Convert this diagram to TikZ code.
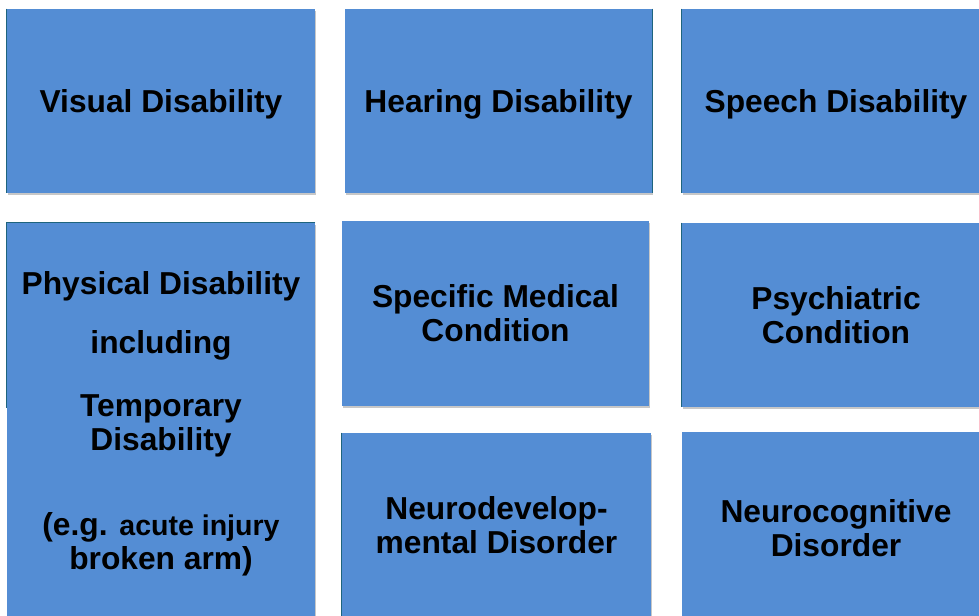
\documentclass[tikz,border=0pt]{standalone}
\usepackage{fontspec}
\setmainfont{Liberation Sans}
\usetikzlibrary{shadows}

\definecolor{boxblue}{RGB}{84,141,212}
\definecolor{edgeteal}{RGB}{30,100,125}

\begin{document}
\begin{tikzpicture}[x=0.75pt, y=-0.75pt,
        box/.style={fill=boxblue, inner sep=0pt, align=center,
            minimum width=231pt, minimum height=138pt,
            font=\bfseries\fontsize{23.8}{25.5}\selectfont,
            drop shadow={shadow xshift=0.6pt, shadow yshift=-1.5pt, opacity=0.22, fill=black}},
        oneline/.style={text depth=0pt},
        edge/.style={draw=edgeteal, line width=0.8pt}]
            \clip (0, 0) rectangle (979, 616);
            \fill[white] (0, 0) rectangle (979, 616);

            \node[box, oneline] (visual) at (161, 101) {Visual Disability};
            \node[box, oneline, minimum width=230.25pt] (hearing) at (498.5, 101) {Hearing Disability};
            \node[box, oneline] (speech) at (836, 101) {Speech Disability};

            \node[box, minimum height=300.75pt] (physical) at (161, 423.5)
                {Physical Disability\\[18.75pt] including\\[21.75pt] Temporary\\ Disability\\[38.25pt]
                 (e.g. {\fontsize{21.4}{25.5}\selectfont acute injury}\\ broken arm)};
            \node[box, minimum width=230.25pt, minimum height=138.75pt] (medical) at (495.5, 313.5)
                {Specific Medical\\ Condition};
            \node[box] (psychiatric) at (836, 315) {Psychiatric\\ Condition};

            \node[box, minimum width=231.75pt] (neurodev) at (496.5, 525) {Neurodevelop-\\ mental Disorder};
            \node[box, minimum height=144pt] (neurocog) at (836, 528) {Neurocognitive\\ Disorder};

            % thin darker edges
            \draw[edge] (visual.north west) -- (visual.south west);
            \draw[edge] (hearing.north east) -- (hearing.south east);
            \draw[edge] (speech.north west) -- (speech.south west);
            \draw[edge] (physical.north east) -- (physical.north west) -- ++(0, 185);
            \draw[edge] (psychiatric.north west) -- (psychiatric.south west);
            \draw[edge] (neurodev.north west) -- (neurodev.south west);
        \end{tikzpicture}
\end{document}
